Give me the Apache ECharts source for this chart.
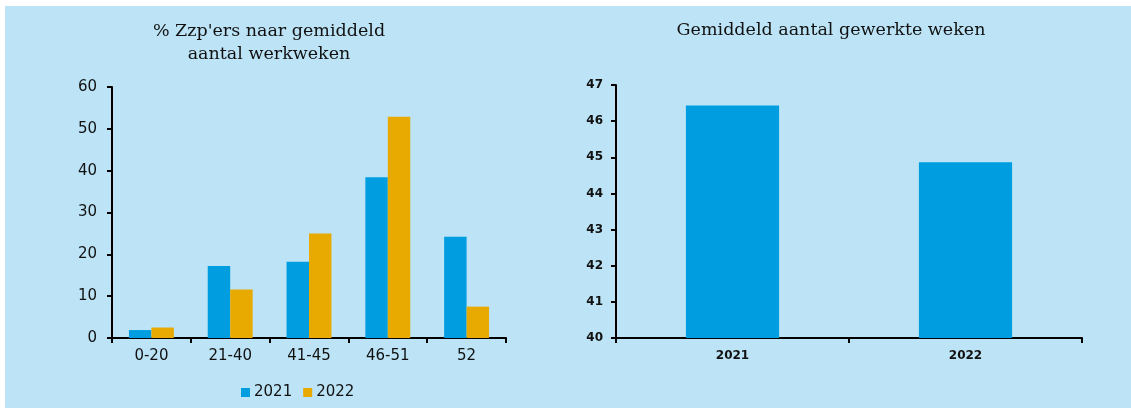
<!DOCTYPE html>
<html>
<head>
<meta charset="utf-8">
<script src="https://cdn.jsdelivr.net/npm/echarts@6/dist/echarts.min.js"></script>
<style>
  html, body { margin: 0; padding: 0; background: #fff; }
  #chart { position: absolute; left: 5px; top: 6px; width: 1126px; height: 402px; }
</style>
</head>
<body>
<div id="chart"></div>
<script>
// left panel: share of zzp'ers by number of weeks worked
const weekGroups = ['0-20', '21-40', '41-45', '46-51', '52'];
const share2021 = [1.9, 17.2, 18.2, 38.4, 24.2];
const share2022 = [2.5, 11.6, 25.0, 52.9, 7.5];

// right panel: average number of weeks worked
const years = ['2021', '2022'];
const avgWeeks = [46.43, 44.86];

const leftTicks = { min: 0, max: 60, interval: 10 };
const rightTicks = { min: 40, max: 47, interval: 1 };

const blue = '#009EE0';
const yellow = '#E8AA00';
const ink = '#111';
const sans = '"DejaVu Sans", Verdana, sans-serif';
const serif = '"DejaVu Serif", serif';

const axisLine = { show: true, lineStyle: { color: '#000', width: 2 } };
const axisTick = { show: true, length: 5, lineStyle: { color: '#000', width: 2 } };

const chart = echarts.init(document.getElementById('chart'));

chart.setOption({
  backgroundColor: '#BCE4F6',
  animation: false,
  graphic: [
    {
      type: 'text', x: 264, y: 14,
      style: { text: "% Zzp'ers naar gemiddeld\naantal werkweken", align: 'center',
        font: '17.5px ' + serif, fill: ink, lineHeight: 23 }
    },
    {
      type: 'text', x: 826, y: 15,
      style: { text: 'Gemiddeld aantal gewerkte weken', align: 'center',
        font: '17.5px ' + serif, fill: ink }
    }
  ],
  legend: {
    data: ['2021', '2022'],
    left: 231, top: 374,
    itemWidth: 9, itemHeight: 9, itemGap: 11,
    icon: 'rect',
    textStyle: { fontFamily: sans, fontSize: 15, color: ink, padding: [0, 0, 0, -1] }
  },
  grid: [
    { left: 107, top: 81, width: 394, height: 251 },
    { left: 611, top: 79, width: 466, height: 253 }
  ],
  xAxis: [
    {
      type: 'category', gridIndex: 0, data: weekGroups,
      axisLine: axisLine, axisTick: axisTick,
      axisLabel: { fontFamily: sans, fontSize: 15, color: ink, margin: 11 }
    },
    {
      type: 'category', gridIndex: 1, data: years,
      axisLine: axisLine, axisTick: axisTick,
      axisLabel: { fontFamily: sans, fontSize: 12, fontWeight: 'bold', color: ink, margin: 12 }
    }
  ],
  yAxis: [
    {
      type: 'value', gridIndex: 0, min: leftTicks.min, max: leftTicks.max, interval: leftTicks.interval,
      axisLine: axisLine, axisTick: axisTick, splitLine: { show: false },
      axisLabel: { fontFamily: sans, fontSize: 15, color: ink, margin: 15 }
    },
    {
      type: 'value', gridIndex: 1, min: rightTicks.min, max: rightTicks.max, interval: rightTicks.interval,
      axisLine: axisLine, axisTick: axisTick, splitLine: { show: false },
      axisLabel: { fontFamily: sans, fontSize: 12, fontWeight: 'bold', color: ink, margin: 13 }
    }
  ],
  series: [
    {
      name: '2021', type: 'bar', xAxisIndex: 0, yAxisIndex: 0, data: share2021,
      itemStyle: { color: blue }, barGap: '0%', barCategoryGap: '43%'
    },
    {
      name: '2022', type: 'bar', xAxisIndex: 0, yAxisIndex: 0, data: share2022,
      itemStyle: { color: yellow }, barGap: '0%', barCategoryGap: '43%'
    },
    {
      name: 'gemiddeld', type: 'bar', xAxisIndex: 1, yAxisIndex: 1, data: avgWeeks,
      itemStyle: { color: blue }, barCategoryGap: '60%'
    }
  ]
});
</script>
</body>
</html>
